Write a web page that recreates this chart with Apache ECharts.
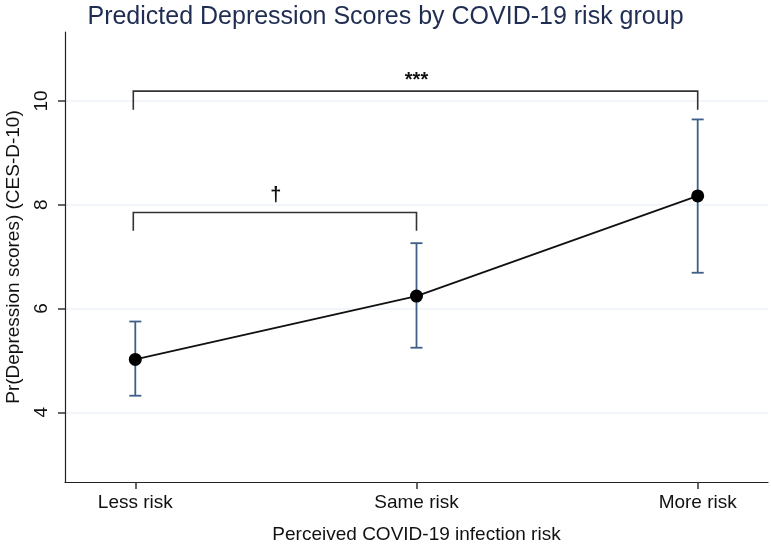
<!DOCTYPE html>
<html>
<head>
<meta charset="utf-8">
<script src="https://cdn.jsdelivr.net/npm/echarts@6/dist/echarts.min.js"></script>
<style>html,body{margin:0;padding:0;background:#fff}#c{width:771px;height:546px}</style>
</head>
<body>
<div id="c"></div>
<script>
const categories = ['Less risk', 'Same risk', 'More risk'];
const means = [5.02, 6.24, 8.17];
const lower = [4.32, 5.245, 6.69];
const upper = [5.75, 7.26, 9.645];
const yTicks = [4, 6, 8, 10];
// brackets: [fromIndex, toIndex, topValue, dropValue, labelValue, label]
const brackets = [
  [0, 2, 10.19, 9.83, 10.40, '***'],
  [0, 1, 7.85, 7.50, 8.18, '†']
];

const FONT = '"Liberation Sans", Arial, Helvetica, sans-serif';
const chart = echarts.init(document.getElementById('c'));

const meanData = means.map((v, i) => [i, v]);
const errData = means.map((v, i) => [i, lower[i], upper[i]]);

chart.setOption({
  animation: false,
  backgroundColor: '#fff',
  title: {
    text: 'Predicted Depression Scores by COVID-19 risk group',
    left: 'center', top: 0,
    textStyle: { fontFamily: FONT, fontSize: 25, fontWeight: 'normal', color: '#1f2d52' }
  },
  grid: { left: 65, right: 3, top: 32, bottom: 64, outerBoundsMode: 'none', containLabel: false },
  xAxis: {
    type: 'value', min: -0.25, max: 2.25,
    name: 'Perceived COVID-19 infection risk', nameLocation: 'middle', nameGap: 43,
    nameTextStyle: { fontFamily: FONT, fontSize: 19, color: '#111' },
    axisLine: { show: true, onZero: false, lineStyle: { color: '#222', width: 1.2 } },
    axisTick: { show: true, length: 7, lineStyle: { color: '#333', width: 1.5 }, customValues: [0, 1, 2] },
    axisLabel: { fontFamily: FONT, fontSize: 19, color: '#111', margin: 11,
      customValues: [0, 1, 2], formatter: v => categories[Math.round(v)] },
    splitLine: { show: false }
  },
  yAxis: {
    type: 'value', min: 2.657, max: 11.33,
    name: 'Pr(Depression scores) (CES-D-10)', nameLocation: 'middle', nameGap: 42,
    nameRotate: 90,
    nameTextStyle: { fontFamily: FONT, fontSize: 19, color: '#111' },
    axisLine: { show: true, onZero: false, lineStyle: { color: '#222', width: 1.2 } },
    axisTick: { show: true, length: 7, lineStyle: { color: '#333', width: 1.5 }, customValues: yTicks },
    axisLabel: { fontFamily: FONT, fontSize: 19, color: '#111', rotate: 90, margin: 14,
      customValues: yTicks, formatter: v => String(v) },
    splitLine: { show: true, lineStyle: { color: '#eef3f8', width: 1.5 } }
  },
  series: [
    {
      type: 'custom',
      renderItem: function (params, api) {
        const b = brackets[params.dataIndex];
        const p1 = api.coord([b[0], b[2]]);
        const p2 = api.coord([b[1], b[2]]);
        const d1 = api.coord([b[0], b[3]]);
        const d2 = api.coord([b[1], b[3]]);
        const lp = api.coord([(b[0] + b[1]) / 2, b[4]]);
        return {
          type: 'group',
          children: [
            { type: 'polyline', shape: { points: [[d1[0] - 2, d1[1]], [p1[0] - 2, p1[1]], [p2[0], p2[1]], [d2[0], d2[1]]] },
              style: { stroke: '#333', lineWidth: 1.6, fill: null } },
            { type: 'text', x: lp[0], y: lp[1],
              style: { text: b[5], fontFamily: FONT, fontSize: 20, fontWeight: 'bold', fill: '#111', align: 'center', verticalAlign: 'middle' } }
          ]
        };
      },
      data: brackets.map((b, i) => [b[0], b[2]]),
      z: 3
    },
    {
      type: 'custom',
      renderItem: function (params, api) {
        const x = api.value(0);
        const lo = api.coord([x, api.value(1)]);
        const hi = api.coord([x, api.value(2)]);
        const w = 6;
        const st = { stroke: '#3f5f88', lineWidth: 1.8 };
        return {
          type: 'group',
          children: [
            { type: 'line', shape: { x1: lo[0], y1: lo[1], x2: hi[0], y2: hi[1] }, style: st },
            { type: 'line', shape: { x1: lo[0] - w, y1: lo[1], x2: lo[0] + w, y2: lo[1] }, style: st },
            { type: 'line', shape: { x1: hi[0] - w, y1: hi[1], x2: hi[0] + w, y2: hi[1] }, style: st }
          ]
        };
      },
      data: errData,
      z: 4
    },
    {
      type: 'line',
      data: meanData,
      symbol: 'circle', symbolSize: 13,
      lineStyle: { color: '#111', width: 1.8 },
      itemStyle: { color: '#000' },
      z: 5
    }
  ]
});
</script>
</body>
</html>
